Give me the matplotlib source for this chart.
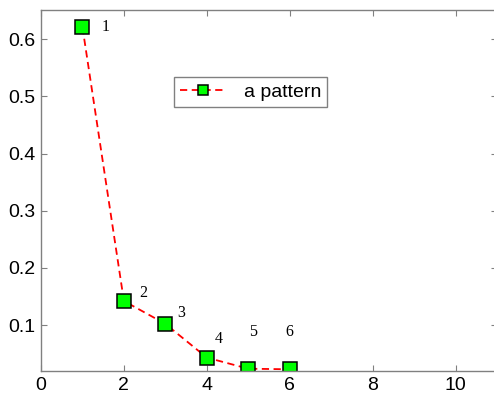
import matplotlib
matplotlib.use("Agg")
import matplotlib.pyplot as plt

plt.rcParams.update({"font.family": "sans-serif",
                     "font.sans-serif": ["Liberation Sans", "DejaVu Sans"],
                     "font.size": 14})

# data
x_vals = [1, 2, 3, 4, 5, 6]
y_vals = [0.621, 0.142, 0.102, 0.043, 0.0236, 0.0226]
point_labels = ["1", "2", "3", "4", "5", "6"]
series_name = "a pattern"
x_ticks = [0, 2, 4, 6, 8, 10]
y_ticks = [0.1, 0.2, 0.3, 0.4, 0.5, 0.6]

# label offsets in pixels (dx, dy) from each marker
label_offsets = [(23, 0), (19, 8), (16, 11), (12, 19), (5, 37), (0, 37)]

fig = plt.figure(figsize=(4.94, 3.94), dpi=100)
ax = fig.add_axes([41 / 494, 23 / 394, 456 / 494, 361 / 394])

ax.plot(x_vals, y_vals, color="red", linestyle="--", linewidth=1.3,
        marker="s", markersize=9.5, markerfacecolor="#00ff00",
        markeredgecolor="black", markeredgewidth=1.1, label=series_name,
        dashes=(4, 2.5))

for xv, yv, lab, off in zip(x_vals, y_vals, point_labels, label_offsets):
    ax.annotate(lab, (xv, yv), xytext=(off[0] * 0.72, off[1] * 0.72),
                textcoords="offset points", ha="center", va="center",
                family="Liberation Serif", fontsize=11.5)

ax.set_xlim(0, 11)
ax.set_ylim(0.0196, 0.651)
ax.set_xticks(x_ticks)
ax.set_yticks(y_ticks)
ax.set_yticklabels([f"{t:.1f}" for t in y_ticks])

for spine in ax.spines.values():
    spine.set_color("#808080")
    spine.set_linewidth(1.0)
ax.tick_params(direction="in", top=True, right=True, length=4,
               color="#808080", labelsize=14, pad=4)

leg = ax.legend(loc="center", bbox_to_anchor=(0.459, 0.773), fancybox=False,
                edgecolor="#808080", framealpha=1, handlelength=2.4,
                handletextpad=0.9, markerscale=0.8, borderpad=0.3,
                borderaxespad=0, fontsize=14)
leg.get_frame().set_linewidth(1.0)

fig.savefig("out.png", dpi=100)
